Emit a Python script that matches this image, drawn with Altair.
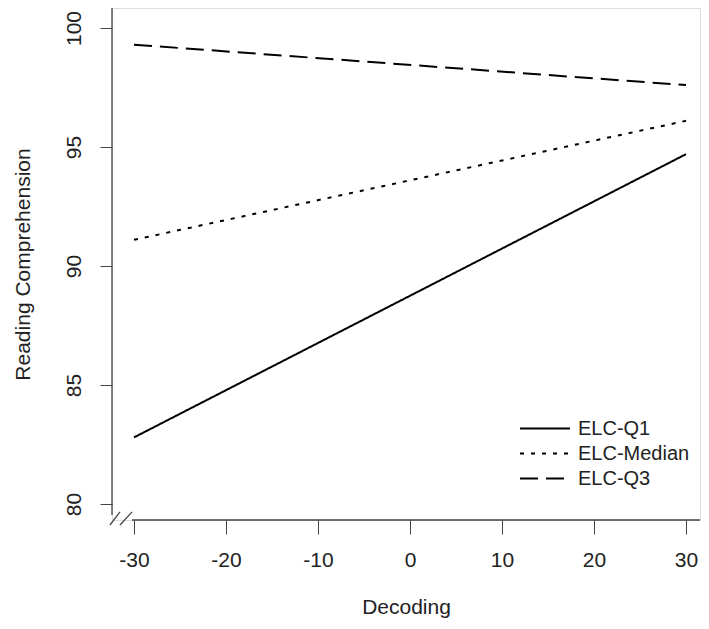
import altair as alt
import pandas as pd

decoding = [-30, 30]
q1 = [82.8, 94.7]
median = [91.1, 96.1]
q3 = [99.3, 97.6]
series = ["ELC-Q1", "ELC-Median", "ELC-Q3"]

x_ticks = [-30, -20, -10, 0, 10, 20, 30]
y_ticks = [80, 85, 90, 95, 100]

X_DOM = [-32.39, 31.52]
Y_DOM = [79.33, 100.84]

rows = []
for name, vals in zip(series, [q1, median, q3]):
    for xv, yv in zip(decoding, vals):
        rows.append({"Decoding": xv, "Reading": yv, "Group": name})
df = pd.DataFrame(rows)

xs = alt.Scale(domain=X_DOM, nice=False, zero=False)
ys = alt.Scale(domain=Y_DOM, nice=False, zero=False)

FONT = "Liberation Sans"
AX = "#444444"
TXT = "#222222"

lines = alt.Chart(df).mark_line(color="black", strokeWidth=2, clip=False).encode(
    x=alt.X("Decoding:Q", scale=xs,
            axis=alt.Axis(values=x_ticks, domain=False, grid=False, tickSize=14,
                          tickColor=AX, labelPadding=15, labelFontSize=21,
                          labelExpr="'' + datum.value",
                          labelColor=TXT, labelFont=FONT, title="Decoding",
                          titleFont=FONT, titleFontSize=21, titleFontWeight="normal",
                          titleColor=TXT, titlePadding=26)),
    y=alt.Y("Reading:Q", scale=ys, title="Reading Comprehension",
            axis=alt.Axis(values=y_ticks, domain=False, grid=False, tickSize=12,
                          tickColor=AX, labelAngle=-90, labelPadding=16,
                          labelExpr="'' + datum.value",
                          labelFontSize=21, labelColor=TXT, labelFont=FONT,
                          titleFont=FONT, titleFontSize=21, titleFontWeight="normal",
                          titleColor=TXT, titlePadding=30)),
    strokeDash=alt.StrokeDash("Group:N",
        scale=alt.Scale(domain=series, range=[[1, 0], [4, 7], [18, 8]]),
        legend=alt.Legend(title=None, orient="none", legendX=407, legendY=408,
                          symbolType="stroke", symbolSize=2500, symbolStrokeWidth=2,
                          symbolStrokeColor="black", labelFontSize=20, labelFont=FONT,
                          labelColor=TXT, labelOffset=7, rowPadding=0,
                          clipHeight=25, symbolOffset=0)),
    detail="Group:N",
)

# axis lines drawn as rules in data coordinates
axis_df = pd.DataFrame([
    {"x": X_DOM[0], "x2": X_DOM[0], "y": 79.54, "y2": Y_DOM[1]},
    {"x": -30.22, "x2": X_DOM[1], "y": Y_DOM[0], "y2": Y_DOM[0]},
    {"x": -32.61, "x2": -31.52, "y": 79.12, "y2": 79.67},
    {"x": -31.52, "x2": -30.21, "y": 79.12, "y2": 79.67},
])
axes = alt.Chart(axis_df).mark_rule(color=AX, strokeWidth=1.3, clip=False).encode(
    x=alt.X("x:Q", scale=xs), x2="x2:Q",
    y=alt.Y("y:Q", scale=ys), y2="y2:Q",
)

chart = alt.layer(lines, axes).properties(
    width=588, height=512,
    autosize=alt.AutoSizeParams(type="none"),
    padding={"left": 104, "top": 0, "right": 1, "bottom": 101},
).configure_view(stroke=None).configure(background="white")

chart.save("out.html", embed_options={"renderer": "svg", "actions": False})
